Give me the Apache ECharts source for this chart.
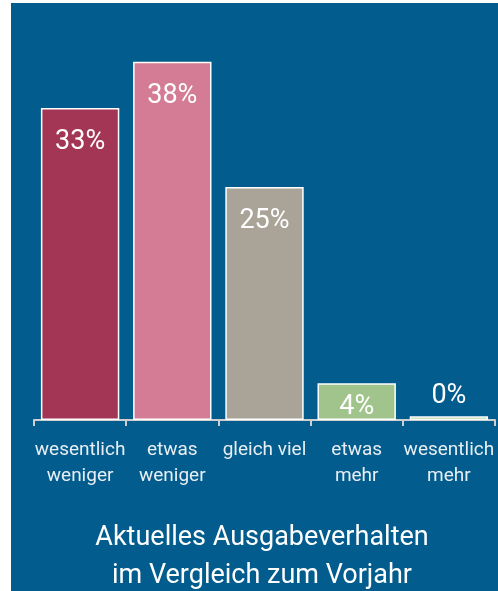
<!DOCTYPE html>
<html>
<head>
<meta charset="utf-8">
<script src="https://cdn.jsdelivr.net/npm/echarts@6/dist/echarts.min.js"></script>
<style>
  html, body { margin: 0; padding: 0; background: #ffffff; }
  #chart { position: absolute; left: 11px; top: 3px; width: 487px; height: 588px; background: #025c8d; }
</style>
</head>
<body>
<div id="chart"></div>
<script>
  // Kategorien und Werte (Anteile in %)
  var categories = ['wesentlich\nweniger', 'etwas\nweniger', 'gleich viel', 'etwas\nmehr', 'wesentlich\nmehr'];
  var values = [33.2, 38.1, 24.8, 3.9, 0.4];
  var valueLabels = ['33%', '38%', '25%', '4%', '0%'];
  var barColors = ['#a33654', '#d47b95', '#a9a398', '#a0c48c', '#a0c48c'];
  var titleText = 'Aktuelles Ausgabeverhalten\nim Vergleich zum Vorjahr';

  var font = 'Roboto, sans-serif';

  var myChart = echarts.init(document.getElementById('chart'));

  var barData = values.map(function (v, i) {
    var label = { position: 'insideTop', distance: 21 };
    if (i === 3) label = { position: 'insideTop', distance: 10 };
    if (i === 4) label = { position: 'top', distance: 6 };
    return {
      value: v,
      itemStyle: { color: barColors[i] },
      label: label
    };
  });

  myChart.setOption({
    animation: false,
    grid: { left: 23, right: 3, top: 41, bottom: 171 },
    xAxis: {
      type: 'category',
      data: categories,
      axisLine: { lineStyle: { color: '#cfcfcf', width: 2 } },
      axisTick: { show: true, length: 6, lineStyle: { color: '#cfcfcf', width: 2 } },
      axisLabel: {
        color: '#e8eef3',
        fontFamily: font,
        fontSize: 19,
        lineHeight: 26,
        margin: 17,
        interval: 0
      }
    },
    yAxis: {
      type: 'value',
      min: 0,
      max: 40,
      show: false,
      splitLine: { show: false }
    },
    series: [{
      type: 'bar',
      data: barData,
      barCategoryGap: '15%',
      barMinHeight: 3,
      itemStyle: { borderColor: '#ffffff', borderWidth: 1.5 },
      label: {
        show: true,
        color: '#ffffff',
        fontFamily: font,
        fontSize: 27,
        formatter: function (p) { return valueLabels[p.dataIndex]; }
      }
    }],
    graphic: [{
      type: 'text',
      x: 251,
      y: 554,
      style: {
        text: titleText,
        fill: '#ffffff',
        font: '27px ' + font,
        lineHeight: 38,
        align: 'center',
        verticalAlign: 'middle'
      }
    }]
  });
</script>
</body>
</html>
